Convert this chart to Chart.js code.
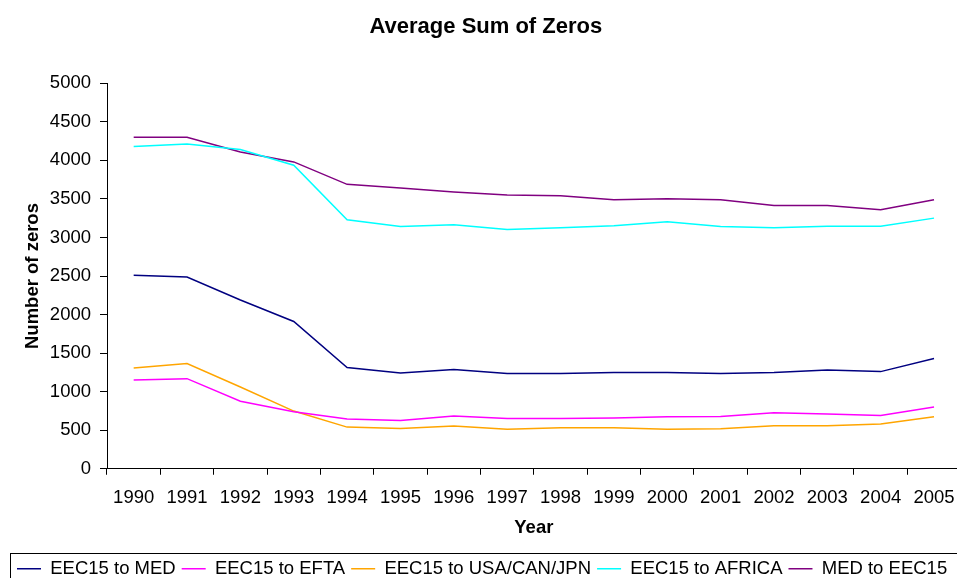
<!DOCTYPE html>
<html>
<head>
<meta charset="utf-8">
<script src="https://cdn.jsdelivr.net/npm/chart.js@4.4.0/dist/chart.umd.min.js"></script>
<style>
  html, body { margin: 0; padding: 0; background: #fff; overflow: hidden; }
  #wrap { width: 957px; height: 578px; overflow: hidden; position: relative; }
  canvas { display: block; }
</style>
</head>
<body>
<div id="wrap"><canvas id="c" width="970" height="600"></canvas></div>
<script>
const years = ['1990','1991','1992','1993','1994','1995','1996','1997','1998','1999','2000','2001','2002','2003','2004','2005'];
const eec15ToMed    = [2509, 2488, 2189, 1910, 1312, 1243, 1286, 1234, 1234, 1247, 1247, 1234, 1247, 1282, 1260, 1429];
const eec15ToEfta   = [1152, 1169, 875, 739, 644, 627, 683, 653, 653, 657, 674, 679, 726, 709, 692, 800];
const eec15ToUsa    = [1308, 1364, 1061, 748, 540, 523, 553, 514, 531, 531, 514, 518, 557, 557, 579, 674];
const eec15ToAfrica = [4180, 4214, 4141, 3937, 3230, 3143, 3165, 3104, 3126, 3152, 3204, 3143, 3126, 3147, 3147, 3251];
const medToEec15    = [4300, 4300, 4110, 3980, 3689, 3641, 3589, 3550, 3542, 3490, 3503, 3490, 3416, 3416, 3360, 3490];
const seriesNames   = ['EEC15 to MED', 'EEC15 to EFTA', 'EEC15 to USA/CAN/JPN', 'EEC15 to AFRICA', 'MED to EEC15'];
const yTicks = { min: 0, max: 5000, step: 500 };

const FONT = '"Liberation Sans", Arial, Helvetica, sans-serif';

const legendBorder = {
  id: 'legendBorder',
  afterDraw(chart) {
    const lg = chart.legend;
    const ctx = chart.ctx;
    ctx.save();
    ctx.strokeStyle = '#000';
    ctx.lineWidth = 1;
    const x = Math.round(lg.left) - 0.5;
    const y = Math.round(lg.top) - 0.5;
    ctx.strokeRect(x, y, 2000, 200);
    ctx.restore();
  }
};

new Chart(document.getElementById('c'), {
  type: 'line',
  data: {
    labels: years,
    datasets: [
      { label: seriesNames[0], data: eec15ToMed,    borderColor: '#000080' },
      { label: seriesNames[1], data: eec15ToEfta,   borderColor: '#FF00FF' },
      { label: seriesNames[2], data: eec15ToUsa,    borderColor: '#FFA500' },
      { label: seriesNames[3], data: eec15ToAfrica, borderColor: '#00FFFF' },
      { label: seriesNames[4], data: medToEec15,    borderColor: '#800080' }
    ].map(d => Object.assign(d, { backgroundColor: d.borderColor, borderWidth: 1.5, pointRadius: 0, tension: 0, fill: false }))
  },
  options: {
    responsive: false,
    animation: false,
    layout: { padding: { left: 11, right: 9.3, top: 0, bottom: 12 } },
    plugins: {
      title: {
        display: true,
        text: 'Average Sum of Zeros',
        color: '#000',
        font: { family: FONT, size: 22, weight: 'bold' },
        padding: { top: 14, bottom: 42.9 }
      },
      legend: {
        position: 'bottom',
        align: 'start',
        labels: {
          color: '#000',
          font: { family: FONT, size: 18.5 },
          usePointStyle: true,
          pointStyle: 'line',
          pointStyleWidth: 24,
          padding: 6
        }
      },
      tooltip: { enabled: false }
    },
    scales: {
      x: {
        type: 'category',
        offset: true,
        grid: { offset: true, drawOnChartArea: false, drawTicks: true, tickLength: 6, color: '#000' },
        border: { color: '#000', width: 1 },
        ticks: { color: '#000', font: { family: FONT, size: 18.5 }, padding: 11.9, maxRotation: 0, autoSkip: false },
        title: { display: true, text: 'Year', color: '#000', font: { family: FONT, size: 18.5, weight: 'bold' }, padding: { top: 0, bottom: 14.6 } },
        afterFit(s) { s.height = 84.75; }
      },
      y: {
        min: yTicks.min, max: yTicks.max,
        grid: { drawOnChartArea: false, drawTicks: true, tickLength: 7, color: '#000' },
        border: { color: '#000', width: 1 },
        ticks: { stepSize: yTicks.step, color: '#000', font: { family: FONT, size: 18.5 }, padding: 9, callback: v => String(v) },
        title: { display: true, text: 'Number of zeros', color: '#000', font: { family: FONT, size: 18.5, weight: 'bold' }, padding: { top: 10.4, bottom: 0 } },
        afterFit(s) { s.width = 96; }
      }
    }
  },
  plugins: [legendBorder]
});
</script>
</body>
</html>
